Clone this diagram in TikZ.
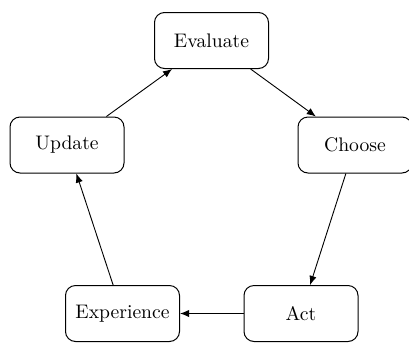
\documentclass[tikz,border=0pt]{standalone}
\usetikzlibrary{arrows.meta}
\tikzset{
  stage/.style={draw, rounded corners=5.5pt, line width=0.55pt,
    minimum width=62.7pt, minimum height=30.8pt, inner sep=2pt,
    font=\fontsize{10.8}{13}\selectfont},
  flow/.style={line width=0.5pt, -{Latex[length=5pt,width=4pt]}}
}
\begin{document}
\begin{tikzpicture}[x=0.55pt,y=-0.55pt]
\useasboundingbox (0,0) rectangle (409,342);

\node [stage] (evaluate) at (211.5,40.5) {Evaluate};
\node [stage] (choose) at (355,145) {Choose};
\node [stage] (act) at (301,313.5) {Act};
\node [stage] (experience) at (122.5,313.5) {Experience};
\node [stage] (update) at (67,145) {Update};

\draw[flow] (evaluate) -- (choose);
\draw[flow] (choose) -- (act);
\draw[flow] (act) -- (experience);
\draw[flow] (experience) -- (update);
\draw[flow] (update) -- (evaluate);

\end{tikzpicture}
\end{document}
